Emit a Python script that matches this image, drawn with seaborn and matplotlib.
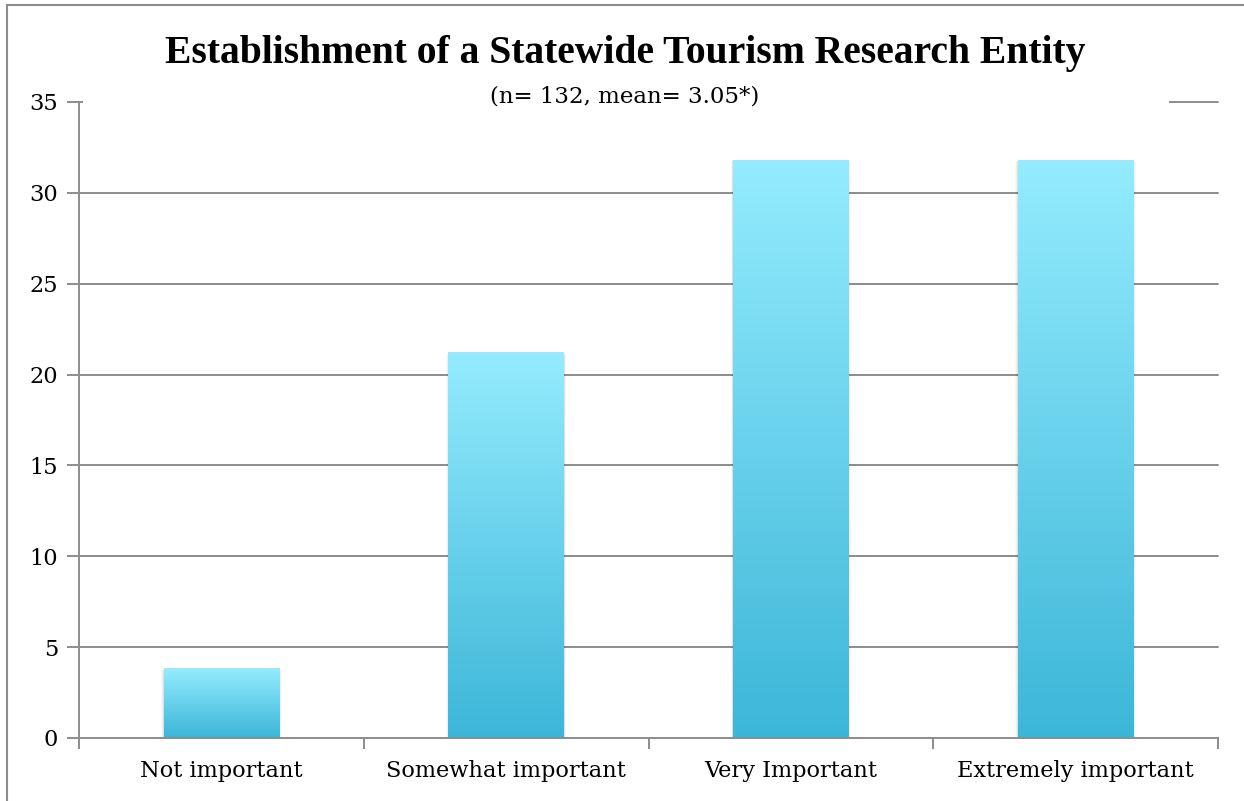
import numpy as np
import pandas as pd
import matplotlib
matplotlib.use("Agg")
import matplotlib.pyplot as plt
import seaborn as sns
from matplotlib.colors import LinearSegmentedColormap
from matplotlib.patches import Rectangle
from matplotlib.lines import Line2D

# Survey responses (% of respondents)
categories = ["Not important", "Somewhat important", "Very Important", "Extremely important"]
values = [3.8, 21.2, 31.8, 31.8]
y_ticks = [0, 5, 10, 15, 20, 25, 30, 35]
title = "Establishment of a Statewide Tourism Research Entity"
subtitle = "(n= 132, mean= 3.05*)"

df = pd.DataFrame({"category": categories, "value": values})

sns.set_theme(style="white")
plt.rcParams["font.family"] = ["DejaVu Serif"]
plt.rcParams["text.color"] = "black"

W, H = 1244, 801
fig = plt.figure(figsize=(W / 100, H / 100), dpi=100)
ax = fig.add_axes([79 / W, 1 - 738 / H, (1218 - 79) / W, (738 - 102) / H])

grid_col = "#8c8c8c"
sns.barplot(data=df, x="category", y="value", width=0.405, ax=ax,
            color="#3cb6d8", saturation=1, zorder=3)

# vertical gradient fill for each bar, light at top and darker at the base
cmap = LinearSegmentedColormap.from_list("bar", ["#3cb6d8", "#94ecfe"])
grad = np.linspace(0, 1, 256).reshape(-1, 1)
for p in list(ax.patches):
    x0, y0 = p.get_x(), p.get_y()
    w, h = p.get_width(), p.get_height()
    # soft drop shadow around the bar
    for k, a in enumerate([0.06, 0.04, 0.025]):
        dx = 0.003 * (k + 1)
        dy = 0.05 * (k + 1)
        ax.add_patch(Rectangle((x0 - dx, y0 - dy), w + 2 * dx, h + dy * 0.3,
                               facecolor="black", alpha=a, edgecolor="none", zorder=2.5))
    p.set_visible(False)
    ax.imshow(grad, extent=[x0, x0 + w, y0, y0 + h], origin="lower",
              cmap=cmap, aspect="auto", zorder=3, interpolation="bicubic")

ax.set_xlim(-0.5, 3.5)
ax.set_ylim(0, 35)
ax.set_yticks(y_ticks)
ax.set_yticklabels([str(t) for t in y_ticks])
ax.set_xlabel("")
ax.set_ylabel("")

# horizontal grid
for t in y_ticks[1:]:
    ax.axhline(t, color=grid_col, lw=1.4, zorder=1, clip_on=False)

for s in ["top", "right"]:
    ax.spines[s].set_visible(False)
for s in ["left", "bottom"]:
    ax.spines[s].set_color(grid_col)
    ax.spines[s].set_linewidth(1.4)
    ax.spines[s].set_zorder(4)

ax.tick_params(axis="y", which="major", left=True, length=9, width=1.4,
               color=grid_col, labelsize=16.2, pad=6, labelcolor="black")
ax.tick_params(axis="x", which="major", bottom=False, length=0,
               labelsize=16.2, pad=16, labelcolor="black")
ax.set_xticks(np.arange(-0.5, 4.0, 1.0), minor=True)
ax.tick_params(axis="x", which="minor", bottom=True, length=8, width=1.4,
               color=grid_col, direction="out")

# white backing behind the title block
fig.patches.append(Rectangle((83 / W, 1 - 118 / H), (1169 - 83) / W, 100 / H,
                             transform=fig.transFigure, facecolor="white",
                             edgecolor="none", zorder=5))

fig.text(625 / W, 1 - 63 / H, title, ha="center", va="baseline", color="black",
         fontsize=28.5, fontweight="bold", family=["Liberation Serif"], zorder=6)
fig.text(625 / W, 1 - 102 / H, subtitle, ha="center", va="baseline", color="black",
         fontsize=16.5, family=["DejaVu Serif"], zorder=6)

# outer frame
fig.lines.append(Line2D([7 / W, 1.0], [1 - 5 / H, 1 - 5 / H], transform=fig.transFigure,
                        color=grid_col, lw=1.5))
fig.lines.append(Line2D([7 / W, 7 / W], [0, 1 - 5 / H], transform=fig.transFigure,
                        color=grid_col, lw=1.5))

fig.savefig("out.png", dpi=100, facecolor="white")
